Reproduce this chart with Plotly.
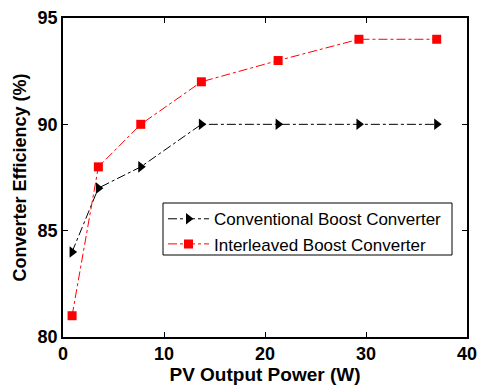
import plotly.graph_objects as go

power = [0.9, 3.5, 7.7, 13.7, 21.3, 29.3, 37.0]
conventional = [84, 87, 88, 90, 90, 90, 90]
interleaved = [81, 88, 90, 92, 93, 94, 94]
x_ticks = [0, 10, 20, 30, 40]
y_ticks = [80, 85, 90, 95]

fig = go.Figure()
fig.add_trace(go.Scatter(
    x=power, y=conventional, mode="lines+markers",
    name="Conventional Boost Converter",
    line=dict(color="black", width=1, dash="dashdot"),
    marker=dict(symbol="triangle-right", size=10, color="black"),
))
fig.add_trace(go.Scatter(
    x=power, y=interleaved, mode="lines+markers",
    name="Interleaved Boost Converter",
    line=dict(color="red", width=1, dash="dashdot"),
    marker=dict(symbol="square", size=9, color="red"),
))

axis_common = dict(
    showgrid=False, zeroline=False, showline=True, linecolor="black", linewidth=1.5,
    mirror="ticks", ticks="inside", ticklen=5, tickwidth=1, tickcolor="black",
    automargin=False,
    tickfont=dict(family="Arial, Liberation Sans", size=18, color="black", weight="bold"),
)
fig.update_xaxes(range=[0, 40], tickvals=x_ticks, **axis_common,
                 title=dict(text="<b>PV Output Power (W)</b>", standoff=4,
                            font=dict(family="Arial, Liberation Sans", size=19, color="black")))
fig.update_yaxes(range=[80, 95], tickvals=y_ticks, **axis_common,
                 title=dict(text="<b>Converter Efficiency (%)</b>", standoff=6,
                            font=dict(family="Arial, Liberation Sans", size=18, color="black")))

# legend frame
fig.add_shape(type="rect", xref="paper", yref="paper",
              x0=(163 - 63) / 404, x1=(452 - 63) / 404,
              y0=(337 - 255) / 319, y1=(337 - 203) / 319,
              line=dict(color="black", width=1), fillcolor="white", layer="above")

fig.update_layout(
    width=478, height=387,
    margin=dict(l=63, r=11, t=18, b=50),
    paper_bgcolor="white", plot_bgcolor="white",
    showlegend=True,
    legend=dict(x=0.2475, y=0.4256, xanchor="left", yanchor="top",
                borderwidth=0, bgcolor="rgba(0,0,0,0)",
                font=dict(family="Arial, Liberation Sans", size=17, color="black"),
                tracegroupgap=0, itemwidth=41),
)
fig.write_html("out.html")
